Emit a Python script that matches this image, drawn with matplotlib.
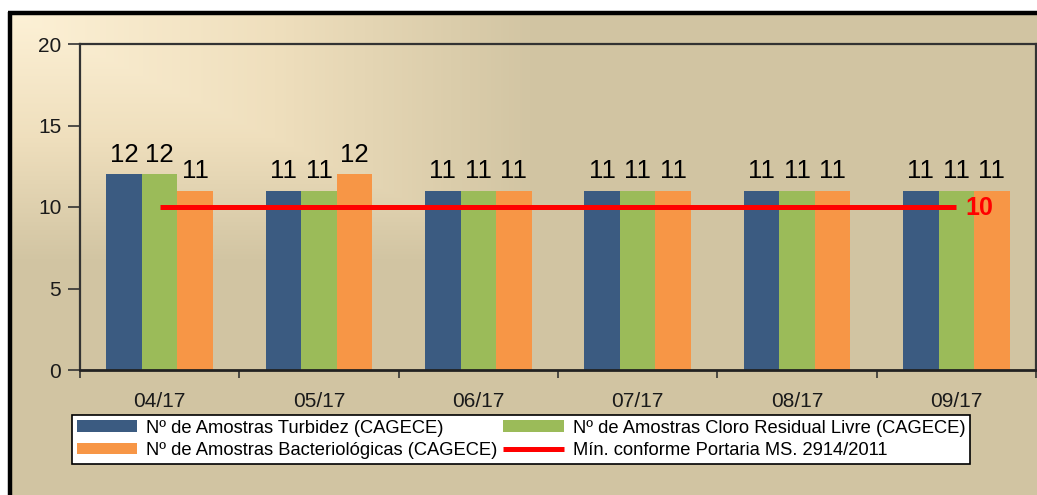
import numpy as np
import matplotlib
matplotlib.use("Agg")
import matplotlib.pyplot as plt
from matplotlib.colors import LinearSegmentedColormap

plt.rcParams['font.family'] = ['Liberation Sans', 'DejaVu Sans']

# data
meses = ["04/17", "05/17", "06/17", "07/17", "08/17", "09/17"]
turbidez = [12, 11, 11, 11, 11, 11]
cloro = [12, 11, 11, 11, 11, 11]
bacterio = [11, 12, 11, 11, 11, 11]
minimo = [10, 10, 10, 10, 10, 10]

nomes = ["Nº de Amostras Turbidez (CAGECE)",
         "Nº de Amostras Cloro Residual Livre (CAGECE)",
         "Nº de Amostras Bacteriológicas (CAGECE)",
         "Mín. conforme Portaria MS. 2914/2011"]

cor_azul = "#3b5b81"
cor_verde = "#9bbb59"
cor_laranja = "#f79646"
cor_vermelho = "#ff0000"

W, H = 1037, 495
fig = plt.figure(figsize=(W / 100, H / 100), dpi=100)
fig.patch.set_facecolor("white")

# background with gradient from the top left corner
bg = fig.add_axes([0, 0, 1, 1])
bg.set_xlim(0, W)
bg.set_ylim(H, 0)
bg.axis("off")
yy, xx = np.mgrid[13:H, 10:W]
t = np.maximum((xx - 10) / 530.0, (yy - 13) / 250.0)
t = np.clip(t, 0, 1)
cmap = LinearSegmentedColormap.from_list("fundo", ["#fdf1d6", "#efdfbd", "#d1c4a2"])
bg.imshow(t, cmap=cmap, vmin=0, vmax=1, extent=(10, W, H, 13), aspect="auto",
          interpolation="bilinear")
bg.plot([8, W], [13, 13], color="black", lw=3.2, solid_capstyle="butt")
bg.plot([10, 10], [12, H], color="black", lw=3.2, solid_capstyle="butt")

ax = fig.add_axes([80 / W, 1 - 370 / H, 956 / W, 326 / H])
ax.patch.set_alpha(0)

x = np.arange(len(meses))
w = 0.223
series = [(turbidez, cor_azul), (cloro, cor_verde), (bacterio, cor_laranja)]
barras = []
for i, (vals, cor) in enumerate(series):
    b = ax.bar(x + (i - 1) * w, vals, w, color=cor, zorder=2)
    barras.append(b)
    for xi, v in zip(x + (i - 1) * w, vals):
        ax.annotate(str(v), (xi, v), xytext=(0, 9), textcoords="offset points",
                    ha="center", va="baseline", fontsize=18.5, color="black")

linha, = ax.plot(x, minimo, color=cor_vermelho, lw=3.6, zorder=3, solid_capstyle="butt")
ax.annotate(str(minimo[-1]), (x[-1], minimo[-1]), xytext=(6.5, -0.5),
            textcoords="offset points", ha="left", va="center",
            fontsize=18, fontweight="bold", color=cor_vermelho, zorder=4)

ax.set_xlim(-0.5, len(meses) - 0.5)
ax.set_ylim(0, 20)
ax.set_yticks([0, 5, 10, 15, 20])
ax.tick_params(axis="y", direction="out", length=8.5, width=1.2, color="#333333",
               labelsize=15, labelcolor="#1a1a1a", pad=5)

ax.set_xticks(np.arange(-0.5, len(meses)), labels=[])
ax.set_xticks(x, labels=meses, minor=True)
ax.tick_params(axis="x", which="major", direction="out", length=6, width=1.2,
               color="#333333")
ax.tick_params(axis="x", which="minor", length=0, labelsize=15,
               labelcolor="#1a1a1a", pad=16)

for s in ax.spines.values():
    s.set_color("#333333")
    s.set_linewidth(1.6)
ax.spines["bottom"].set_color("#222222")
ax.spines["bottom"].set_linewidth(2)

# legend is filled column by column, so order gives rows like the original
handles = [barras[0], barras[2], barras[1], linha]
rotulos = [nomes[0], nomes[2], nomes[1], nomes[3]]
leg = fig.legend(handles, rotulos, ncol=2, loc="upper left",
                 bbox_to_anchor=(72 / W, 1 - 415 / H), fontsize=13.2,
                 frameon=True, fancybox=False, borderpad=0.25,
                 handlelength=3.3, handleheight=0.6, handletextpad=0.5,
                 columnspacing=0.3, labelspacing=0.3, borderaxespad=0)
leg.get_frame().set_edgecolor("black")
leg.get_frame().set_linewidth(1.2)
leg.get_frame().set_facecolor("white")
leg.get_frame().set_alpha(1)

fig.savefig("out.png", dpi=100)
